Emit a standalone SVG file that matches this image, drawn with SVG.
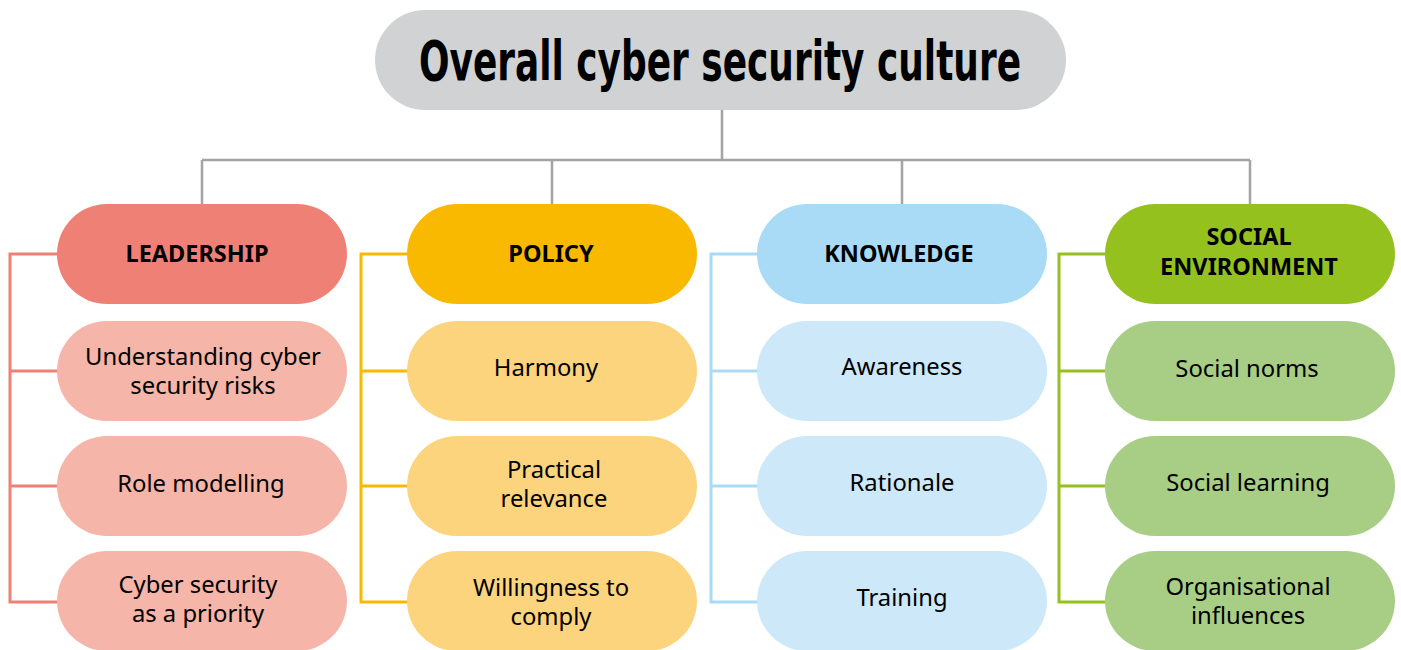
<svg xmlns="http://www.w3.org/2000/svg" width="1401" height="650" viewBox="0 0 1401 650">
<style>
.title{font-family:"DejaVu Sans Condensed","Liberation Sans Narrow","Liberation Sans",sans-serif;font-weight:bold;font-size:56px;fill:#000;text-anchor:middle}
.hd{font-family:"Noto Sans","Open Sans",sans-serif;font-weight:bold;font-size:23.5px;fill:#000;text-anchor:middle}
.tx{font-family:"Noto Sans","Open Sans",sans-serif;font-size:23.8px;fill:#000;text-anchor:middle}
.grey{fill:none;stroke:#a3a3a3;stroke-width:2.5}
.br{fill:none;stroke-width:3}
.lead-h{fill:#ef8076}.lead-s{fill:#f5b5a8}
.pol-h{fill:#f9b900}.pol-s{fill:#fcd47d}
.kn-h{fill:#a9dbf6}.kn-s{fill:#cde8f9}
.so-h{fill:#95c11f}.so-s{fill:#a8cd85}
</style>
<rect width="1401" height="650" fill="#fff"/>
<g id="connectors">
<path class="grey" d="M722 110V160M202 160H1250M202 160V204M552 160V204M902 160V204M1250 160V204"/>
<path class="br" stroke="#ef8076" d="M60 254H10V602H60M10 371H60M10 486H60"/>
<path class="br" stroke="#f9b900" d="M410 254H361V602H410M361 371H410M361 486H410"/>
<path class="br" stroke="#a9dbf6" d="M760 254H711V602H760M711 371H760M711 486H760"/>
<path class="br" stroke="#95c11f" d="M1108 254H1059V602H1108M1059 371H1108M1059 486H1108"/>
</g>
<g id="title">
<rect x="375" y="10" width="691" height="100" rx="50" fill="#d1d2d4"/>
<text class="title" x="720" y="80" textLength="602" lengthAdjust="spacingAndGlyphs">Overall cyber security culture</text>
</g>
<g id="leadership">
<rect class="lead-h" x="57" y="204" width="290" height="100" rx="50"/>
<text class="hd" x="197" y="262">LEADERSHIP</text>
</g>
<g id="lead-1">
<rect class="lead-s" x="57" y="321" width="290" height="100" rx="50"/>
<text class="tx" x="203" y="365">Understanding cyber</text>
<text class="tx" x="203" y="394">security risks</text>
</g>
<g id="lead-2">
<rect class="lead-s" x="57" y="436" width="290" height="100" rx="50"/>
<text class="tx" x="201" y="492">Role modelling</text>
</g>
<g id="lead-3">
<rect class="lead-s" x="57" y="551" width="290" height="100" rx="50"/>
<text class="tx" x="198" y="593">Cyber security</text>
<text class="tx" x="198" y="622">as a priority</text>
</g>
<g id="policy">
<rect class="pol-h" x="407" y="204" width="290" height="100" rx="50"/>
<text class="hd" x="551" y="262">POLICY</text>
</g>
<g id="pol-1">
<rect class="pol-s" x="407" y="321" width="290" height="100" rx="50"/>
<text class="tx" x="546" y="376">Harmony</text>
</g>
<g id="pol-2">
<rect class="pol-s" x="407" y="436" width="290" height="100" rx="50"/>
<text class="tx" x="554" y="478">Practical</text>
<text class="tx" x="554" y="507">relevance</text>
</g>
<g id="pol-3">
<rect class="pol-s" x="407" y="551" width="290" height="100" rx="50"/>
<text class="tx" x="551" y="596">Willingness to</text>
<text class="tx" x="551" y="625">comply</text>
</g>
<g id="knowledge">
<rect class="kn-h" x="757" y="204" width="290" height="100" rx="50"/>
<text class="hd" x="899" y="262">KNOWLEDGE</text>
</g>
<g id="kn-1">
<rect class="kn-s" x="757" y="321" width="290" height="100" rx="50"/>
<text class="tx" x="902" y="375">Awareness</text>
</g>
<g id="kn-2">
<rect class="kn-s" x="757" y="436" width="290" height="100" rx="50"/>
<text class="tx" x="902" y="491">Rationale</text>
</g>
<g id="kn-3">
<rect class="kn-s" x="757" y="551" width="290" height="100" rx="50"/>
<text class="tx" x="902" y="606">Training</text>
</g>
<g id="social">
<rect class="so-h" x="1105" y="204" width="290" height="100" rx="50"/>
<text class="hd" x="1249" y="245">SOCIAL</text>
<text class="hd" x="1249" y="275">ENVIRONMENT</text>
</g>
<g id="so-1">
<rect class="so-s" x="1105" y="321" width="290" height="100" rx="50"/>
<text class="tx" x="1247" y="377">Social norms</text>
</g>
<g id="so-2">
<rect class="so-s" x="1105" y="436" width="290" height="100" rx="50"/>
<text class="tx" x="1248" y="491">Social learning</text>
</g>
<g id="so-3">
<rect class="so-s" x="1105" y="551" width="290" height="100" rx="50"/>
<text class="tx" x="1248" y="595">Organisational</text>
<text class="tx" x="1248" y="624">influences</text>
</g>
</svg>
